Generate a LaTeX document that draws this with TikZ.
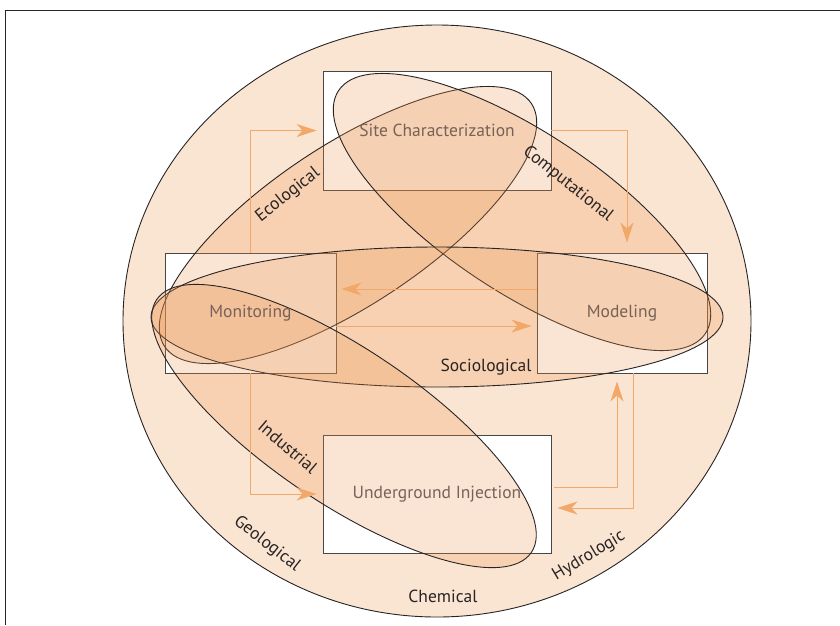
\documentclass[tikz,border=0pt]{standalone}
\usepackage{fontspec}
\setmainfont{PT Sans}
\usetikzlibrary{arrows.meta}
\definecolor{peach}{RGB}{236,150,80}
\definecolor{flowc}{RGB}{241,168,104}
\definecolor{boxtext}{RGB}{118,98,88}
\definecolor{edge}{RGB}{40,36,36}
\begin{document}
\begin{tikzpicture}[x=1pt,y=-1pt]
  \tikzset{area/.style={fill=peach,fill opacity=0.25,draw=edge,line width=0.9pt},
           stage/.style={draw=edge!85,fill=white,line width=0.9pt,inner sep=0},
           stagetext/.style={text=boxtext,inner sep=0,font=\fontsize{17.5}{20}\selectfont},
           field/.style={text=edge,inner sep=0,font=\fontsize{17.5}{20}\selectfont},
           flow/.style={draw=flowc,line width=0.9pt,-{Stealth[length=20pt,width=13pt,inset=6pt,fill=flowc]}}}
  \useasboundingbox (0,0) rectangle (840,625);
  \draw[line width=0.8pt,edge] (5,625) -- (5,10) -- (840,10);
  \draw[area] (437,321) ellipse (314 and 296);
  \node[stage,minimum width=228pt,minimum height=119pt] (site) at (437,130.5) {};
  \node[stage,minimum width=171pt,minimum height=120pt] (mon) at (250.5,313) {};
  \node[stage,minimum width=170pt,minimum height=120pt] (model) at (622,313) {};
  \node[stage,minimum width=228pt,minimum height=118pt] (inj) at (437,494) {};
  \draw[area,rotate around={33.5:(348,225)}] (348,225) ellipse (220 and 80);
  \draw[area,rotate around={-33.5:(522,212)}] (522,212) ellipse (220 and 80);
  \draw[area] (437,317) ellipse (286 and 70);
  \draw[area,rotate around={-34:(344,426)}] (344,426) ellipse (226 and 77);
  \node[stagetext] (site-t) at (site) {Site Characterization};
  \node[stagetext] (mon-t) at (mon) {Monitoring};
  \node[stagetext] (model-t) at (model) {Modeling};
  \node[stagetext] (inj-t) at (inj) {Underground Injection};
  \draw[flow,shorten >=6pt] (mon.north) |- (site.west);
  \draw[flow,shorten >=10pt] (site.east) -| ([xshift=5pt]model.north);
  \draw[flow,shorten >=5pt] ([yshift=24pt]model.west) -- ([yshift=24pt]mon.east);
  \draw[flow,shorten >=5pt] ([yshift=-13pt]mon.east) -- ([yshift=-13pt]model.west);
  \draw[flow,shorten >=6pt] (mon.south) |- (inj.west);
  \draw[flow,shorten <=3pt,shorten >=8pt] ([yshift=7pt]inj.east) -| ([xshift=-5pt]model.south);
  \draw[flow,shorten >=6pt] ([xshift=11pt]model.south) |- ([yshift=-14pt]inj.east);
  \node[field,rotate=38.5] (eco) at (288,195) {Ecological};
  \node[field,rotate=-38.7] (comp) at (568,184) {Computational};
  \node[field] (socio) at (486,367) {Sociological};
  \node[field,rotate=-40.5] (indus) at (288,447) {Industrial};
  \node[field,rotate=-38] (geo) at (267,544) {Geological};
  \node[field] (chem) at (443,596) {Chemical};
  \node[field,rotate=31] (hydro) at (589,556) {Hydrologic};
\end{tikzpicture}
\end{document}
